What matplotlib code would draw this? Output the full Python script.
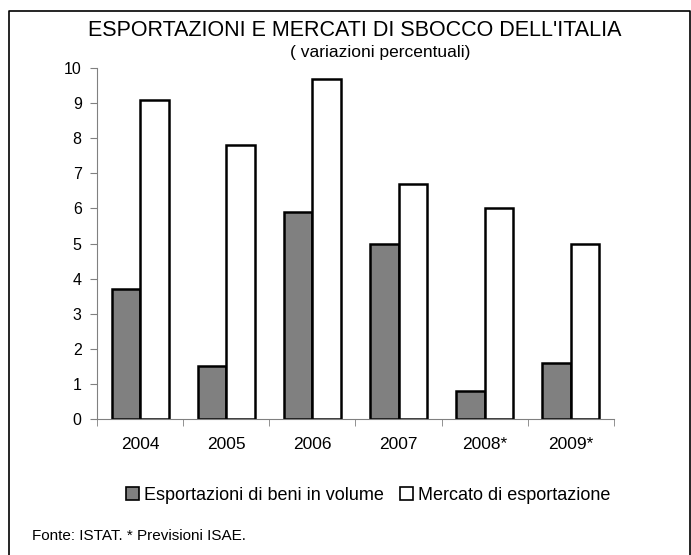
import matplotlib
matplotlib.use('Agg')
import matplotlib.pyplot as plt
import numpy as np
from matplotlib.lines import Line2D
from matplotlib.patches import Patch

plt.rcParams['font.family'] = ['Liberation Sans', 'DejaVu Sans']

anni = ['2004', '2005', '2006', '2007', '2008*', '2009*']
esportazioni = [3.7, 1.5, 5.9, 5.0, 0.8, 1.6]
mercato = [9.1, 7.8, 9.7, 6.7, 6.0, 5.0]

W, H = 691, 555
fig = plt.figure(figsize=(W / 100, H / 100), dpi=100)
ax = fig.add_axes([97 / W, 1 - 419 / H, (614 - 97) / W, (419 - 68) / H])

x = np.arange(len(anni))
bw = 0.33
ax.bar(x - bw / 2, esportazioni, bw, color='#808080', edgecolor='black', linewidth=1.8,
       label='Esportazioni di beni in volume')
ax.bar(x + bw / 2, mercato, bw, color='white', edgecolor='black', linewidth=1.8,
       label='Mercato di esportazione')

ax.set_xlim(-0.5, len(anni) - 0.5)
ax.set_ylim(0, 10)
ax.set_yticks(range(0, 11))
ax.set_xticks(x)
ax.set_xticklabels(anni)
ax.set_xticks(np.arange(-0.5, len(anni)), minor=True)
ax.tick_params(axis='x', which='major', length=0, pad=13, labelsize=12.5)
ax.tick_params(axis='x', which='minor', length=5, color='#808080', direction='out')
ax.tick_params(axis='y', length=5, color='#808080', labelsize=11.5, pad=6)
for s in ['top', 'right']:
    ax.spines[s].set_visible(False)
for s in ['left', 'bottom']:
    ax.spines[s].set_color('#808080')

fig.text(355 / W, 1 - 30 / H, "ESPORTAZIONI E MERCATI DI SBOCCO DELL'ITALIA",
         ha='center', va='center', fontsize=15.5)
fig.text(380 / W, 1 - 53 / H, "( variazioni percentuali)", ha='center', va='center', fontsize=12.5)

handles = [Patch(facecolor='#808080', edgecolor='black', linewidth=1.2),
           Patch(facecolor='white', edgecolor='black', linewidth=1.2)]
fig.legend(handles, ['Esportazioni di beni in volume', 'Mercato di esportazione'],
           loc='center', bbox_to_anchor=(368 / W, 1 - 495 / H), ncol=2, frameon=False,
           fontsize=13, handlelength=0.75, handleheight=0.75, handletextpad=0.25, columnspacing=0.9)

fig.text(32 / W, 1 - 536 / H, "Fonte: ISTAT. * Previsioni ISAE.", ha='left', va='center', fontsize=11)

# cornice esterna (senza lato inferiore)
fig.add_artist(Line2D([9 / W, 9 / W, 690 / W, 690 / W], [0, 1 - 11 / H, 1 - 11 / H, 0],
                      transform=fig.transFigure, color='black', linewidth=1.2))

fig.savefig('out.png', dpi=100)
